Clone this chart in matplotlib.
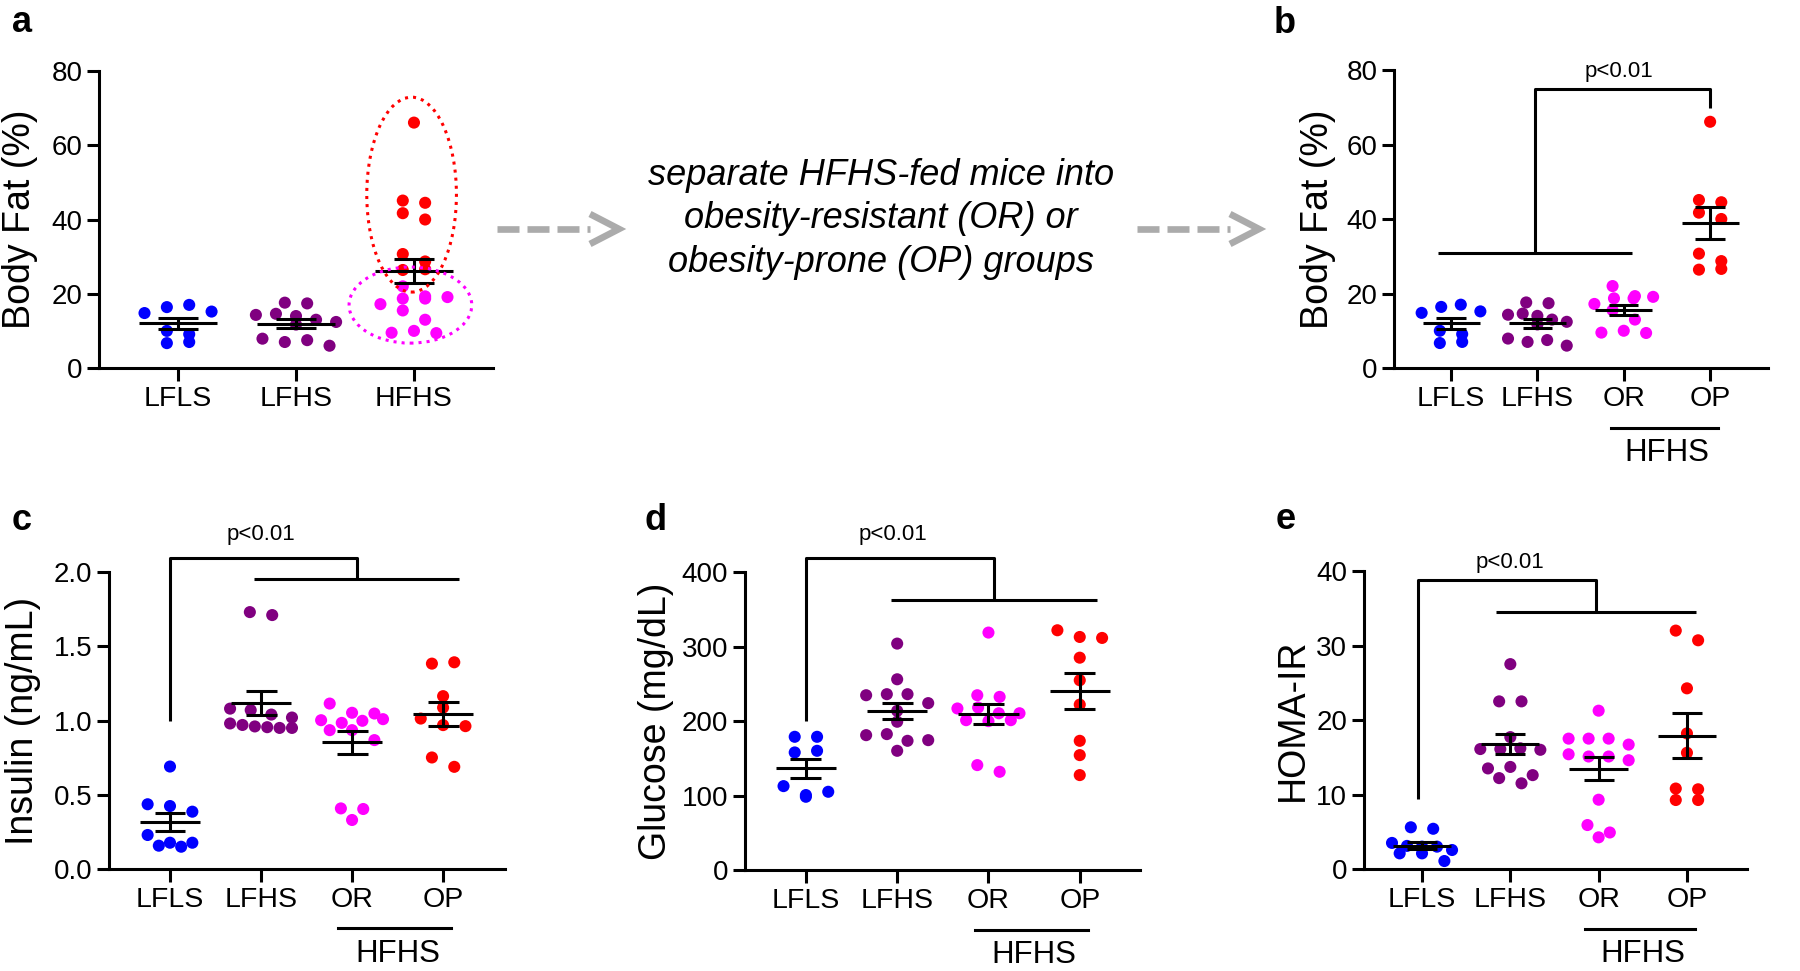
import numpy as np
import matplotlib
matplotlib.use('Agg')
import matplotlib.pyplot as plt
from matplotlib.patches import Ellipse
from matplotlib.lines import Line2D

plt.rcParams['font.family'] = ['Liberation Sans', 'DejaVu Sans']

BLUE, PURPLE, MAGENTA, RED = '#0000ff', '#800080', '#ff00ff', '#ff0000'
GREY = '#ababab'

groups3 = ['LFLS', 'LFHS', 'HFHS']
groups4 = ['LFLS', 'LFHS', 'OR', 'OP']

# body fat (%)
fat_lfls = [14.8, 16.4, 17.0, 15.2, 10.0, 9.1, 6.7, 7.0]
fat_lfhs = [17.6, 17.4, 14.3, 14.6, 14.0, 13.0, 12.4, 11.7, 7.9, 7.0, 7.5, 6.0]
fat_or = [22.0, 17.2, 18.7, 19.3, 18.7, 19.1, 15.5, 13.0, 9.5, 10.0, 9.4]
fat_op = [66.1, 45.1, 44.5, 41.7, 40.0, 30.7, 28.7, 26.4, 26.6]

# insulin (ng/mL)
ins_lfls = [0.69, 0.436, 0.424, 0.386, 0.229, 0.157, 0.177, 0.177, 0.150]
ins_lfhs = [1.73, 1.71, 1.08, 1.07, 1.04, 1.02, 0.98, 0.97, 0.96, 0.955, 0.95, 0.95]
ins_or = [1.114, 1.052, 1.047, 1.002, 0.984, 0.998, 1.009, 0.935, 0.935, 0.868, 0.408, 0.404, 0.33]
ins_op = [1.383, 1.392, 1.164, 1.087, 1.013, 0.969, 0.962, 0.751, 0.688]

# glucose (mg/dL)
glu_lfls = [178.8, 178.8, 157.8, 160.0, 112.6, 98.3, 100.6, 105.0]
glu_lfhs = [303.9, 256.0, 234.6, 236.0, 236.0, 224.0, 213.6, 199.0, 181.0, 182.4, 173.4, 174.3, 160.0]
glu_or = [318.7, 234.6, 232.4, 216.8, 218.1, 210.4, 210.4, 201.1, 199.8, 201.1, 140.8, 131.8]
glu_op = [321.8, 312.8, 311.5, 285.0, 254.7, 222.0, 173.4, 154.2, 127.4]

# HOMA-IR
homa_lfls = [5.6, 5.4, 3.5, 3.1, 3.0, 3.0, 2.55, 2.1, 2.1, 1.07]
homa_lfhs = [27.5, 22.5, 22.5, 17.7, 16.1, 16.1, 16.2, 16.0, 13.5, 13.7, 12.6, 12.2, 11.5]
homa_or = [21.25, 17.5, 17.5, 17.5, 16.7, 15.4, 15.1, 15.1, 14.6, 9.3, 5.9, 4.9, 4.25]
homa_op = [32.0, 30.7, 24.25, 18.2, 15.6, 10.8, 10.7, 9.26, 9.26]

W, H = 1800, 971
LW = 2.2
DOT = 8.7  # marker diameter in pt
fig = plt.figure(figsize=(W / 100, H / 100), dpi=100)


def make_ax(l, t, r, b, xlim, ymax, yticks, ylabel, labx):
    ax = fig.add_axes([l / W, 1 - b / H, (r - l) / W, (b - t) / H])
    ax.set_xlim(*xlim)
    ax.set_ylim(0, ymax)
    for s in ['top', 'right']:
        ax.spines[s].set_visible(False)
    for s in ['left', 'bottom']:
        ax.spines[s].set_linewidth(LW)
    ax.tick_params(direction='out', length=9, width=LW)
    ax.tick_params(axis='y', labelsize=20, pad=3)
    ax.tick_params(axis='x', labelsize=20.5, pad=4)
    ax.set_yticks(yticks)
    ax.set_ylabel(ylabel, fontsize=27)
    ax.yaxis.set_label_coords(labx, 0.5)
    return ax


def spread(ax, vals):
    # prism-like scatter: dots with close values share a row, centred on the group
    bb = ax.get_position()
    x0, x1 = ax.get_xlim()
    y0, y1 = ax.get_ylim()
    sx = bb.width * W / (x1 - x0)
    sy = bb.height * H / (y1 - y0)
    d = DOT * 100 / 72
    ys = np.asarray(vals, float) * sy
    rows, cur = [], []
    for i in np.argsort(-ys):
        if cur and ys[cur[0]] - ys[i] > 0.85 * d:
            rows.append(cur)
            cur = []
        cur.append(i)
    rows.append(cur)
    xs = np.zeros(len(ys))
    half = 0.34 * sx
    for r in rows:
        r = sorted(r)
        n = len(r)
        step = 1.85 * d
        if n > 1:
            step = min(step, 2 * half / (n - 1))
        for j, i in enumerate(r):
            xs[i] = (j - (n - 1) / 2) * step
    return xs / sx


def dots(ax, xc, vals, colors):
    off = spread(ax, vals)
    ax.scatter(xc + off, vals, s=DOT ** 2, c=colors, edgecolors='none', zorder=2, clip_on=False)


def mean_sem(ax, xc, vals):
    v = np.asarray(vals, float)
    m = v.mean()
    s = v.std(ddof=1) / np.sqrt(len(v))
    kw = dict(color='k', lw=LW, zorder=3)
    ax.hlines(m, xc - 0.33, xc + 0.33, **kw)
    ax.hlines([m - s, m + s], xc - 0.17, xc + 0.17, **kw)
    ax.vlines(xc, m - s, m + s, **kw)


def line(ax, xs, ys):
    ax.plot(xs, ys, color='k', lw=LW, clip_on=False, solid_capstyle='butt', zorder=3)


def hfhs_group(ax):
    tr = ax.get_xaxis_transform()
    ax.plot([2.85, 4.09], [-0.2, -0.2], color='k', lw=LW, transform=tr, clip_on=False)
    ax.text(3.5, -0.285, 'HFHS', transform=tr, ha='center', va='center', fontsize=22.5)


def four_groups(ax, data):
    cols = [BLUE, PURPLE, MAGENTA, RED]
    for i, (vals, c) in enumerate(zip(data, cols)):
        dots(ax, i + 1, vals, c)
        mean_sem(ax, i + 1, vals)
    ax.set_xticks(range(1, 5))
    ax.set_xticklabels(groups4)
    hfhs_group(ax)


# ---- a
ax_a = make_ax(99, 71, 493, 368, (0.33, 3.67), 80, [0, 20, 40, 60, 80], 'Body Fat (%)', -0.155)
hfhs = fat_or + fat_op
hfhs_cols = [MAGENTA] * len(fat_or) + [RED] * len(fat_op)
dots(ax_a, 1, fat_lfls, BLUE)
dots(ax_a, 2, fat_lfhs, PURPLE)
dots(ax_a, 3, hfhs, hfhs_cols)
for i, vals in enumerate([fat_lfls, fat_lfhs, hfhs]):
    mean_sem(ax_a, i + 1, vals)
ax_a.set_xticks([1, 2, 3])
ax_a.set_xticklabels(groups3)
ax_a.add_patch(Ellipse((2.98, 46.7), 0.76, 52.5, fill=False, ec=RED, lw=LW, ls=':', zorder=4))
ax_a.add_patch(Ellipse((2.97, 16.95), 1.04, 20.5, fill=False, ec=MAGENTA, lw=LW, ls=':', zorder=4))

# ---- b
ax_b = make_ax(1394, 70, 1768, 368, (0.34, 4.67), 80, [0, 20, 40, 60, 80], 'Body Fat (%)', -0.155)
four_groups(ax_b, [fat_lfls, fat_lfhs, fat_or, fat_op])
line(ax_b, [0.85, 3.1], [30.9, 30.9])
line(ax_b, [1.975, 1.975, 4.0, 4.0], [30.9, 74.8, 74.8, 69.7])
ax_b.text(2.94, 79.6, 'p<0.01', ha='center', va='center', fontsize=16)

# ---- c
ax_c = make_ax(109, 572, 505, 869, (0.33, 4.68), 2.0, [0, 0.5, 1.0, 1.5, 2.0], 'Insulin (ng/mL)', -0.172)
ax_c.set_yticklabels(['0.0', '0.5', '1.0', '1.5', '2.0'])
four_groups(ax_c, [ins_lfls, ins_lfhs, ins_or, ins_op])
line(ax_c, [1.0, 1.0, 3.05, 3.05], [1.0, 2.096, 2.096, 1.955])
line(ax_c, [1.92, 4.18], [1.955, 1.955])
ax_c.text(2.0, 2.25, 'p<0.01', ha='center', va='center', fontsize=16)

# ---- d
ax_d = make_ax(745, 572, 1140, 870, (0.333, 4.66), 400, [0, 100, 200, 300, 400], 'Glucose (mg/dL)', -0.18)
four_groups(ax_d, [glu_lfls, glu_lfhs, glu_or, glu_op])
line(ax_d, [1.0, 1.0, 3.06, 3.06], [200, 419, 419, 362])
line(ax_d, [1.93, 4.19], [362, 362])
ax_d.text(1.95, 450, 'p<0.01', ha='center', va='center', fontsize=16)

# ---- e
ax_e = make_ax(1364, 571, 1747, 869, (0.343, 4.68), 40, [0, 10, 20, 30, 40], 'HOMA-IR', -0.138)
four_groups(ax_e, [homa_lfls, homa_lfhs, homa_or, homa_op])
line(ax_e, [0.95, 0.95, 2.97, 2.97], [9.35, 38.8, 38.8, 34.5])
line(ax_e, [1.84, 4.1], [34.5, 34.5])
ax_e.text(2.0, 41.2, 'p<0.01', ha='center', va='center', fontsize=16)

# panel letters
for lab, x, y in [('a', 12, 32), ('b', 1274, 33), ('c', 12, 530), ('d', 645, 530), ('e', 1276, 529)]:
    fig.text(x / W, 1 - y / H, lab, fontsize=26, fontweight='bold', ha='left', va='baseline')

# middle note with arrows
fig.text(881 / W, 1 - 219 / H,
         'separate HFHS-fed mice into\nobesity-resistant (OR) or\nobesity-prone (OP) groups',
         ha='center', va='center', style='italic', fontsize=26, linespacing=1.33)
for x0 in [497, 1137]:
    yy = 1 - 229 / H
    fig.add_artist(Line2D([x0 / W, (x0 + 93) / W], [yy, yy], color=GREY, lw=4.8,
                          ls=(0, (3.3, 1.2)), dash_capstyle='butt'))
    fig.add_artist(Line2D([(x0 + 93) / W, (x0 + 122) / W, (x0 + 93) / W],
                          [1 - 214 / H, yy, 1 - 244 / H], color=GREY, lw=4.8,
                          solid_joinstyle='miter', solid_capstyle='butt'))

fig.savefig('out.png', dpi=100, facecolor='white')
